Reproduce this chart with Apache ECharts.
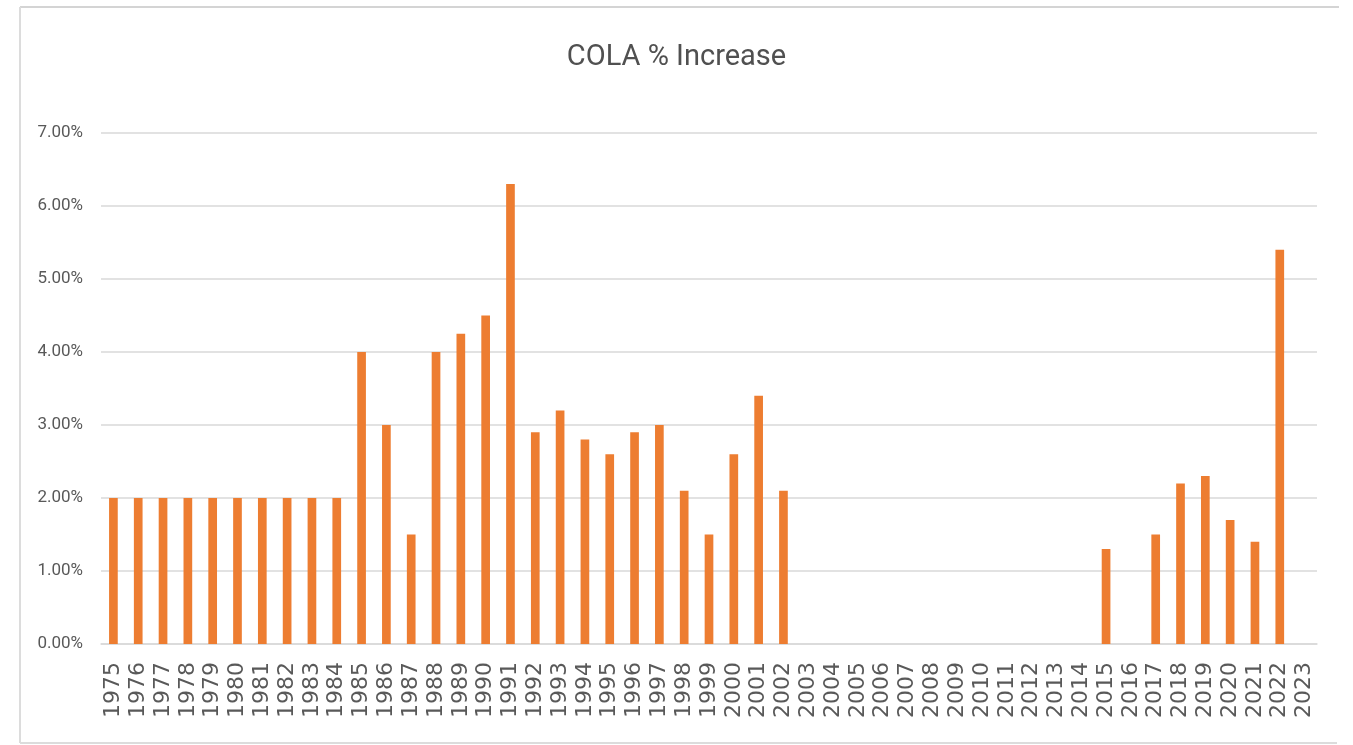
<!DOCTYPE html>
<html>
<head>
<meta charset="utf-8">
<script src="https://cdn.jsdelivr.net/npm/echarts@6/dist/echarts.min.js"></script>
<style>
html,body{margin:0;padding:0;background:#fff;}
#chart{width:1353px;height:745px;}
</style>
</head>
<body>
<div id="chart"></div>
<script>
const years = ['1975','1976','1977','1978','1979','1980','1981','1982','1983','1984',
  '1985','1986','1987','1988','1989','1990','1991','1992','1993','1994',
  '1995','1996','1997','1998','1999','2000','2001','2002','2003','2004',
  '2005','2006','2007','2008','2009','2010','2011','2012','2013','2014',
  '2015','2016','2017','2018','2019','2020','2021','2022','2023'];
const colaPct = [2.0,2.0,2.0,2.0,2.0,2.0,2.0,2.0,2.0,2.0,
  4.0,3.0,1.5,4.0,4.25,4.5,6.3,2.9,3.2,2.8,
  2.6,2.9,3.0,2.1,1.5,2.6,3.4,2.1,0,0,
  0,0,0,0,0,0,0,0,0,0,
  1.3,0,1.5,2.2,2.3,1.7,1.4,5.4,0];
const titleText = 'COLA % Increase';

const chart = echarts.init(document.getElementById('chart'), null, {renderer:'canvas'});
const narrow = 'Roboto, "Liberation Sans", sans-serif';
chart.setOption({
  animation: false,
  backgroundColor: '#ffffff',
  title: {
    text: titleText,
    left: 'center',
    top: 38,
    textStyle: {fontFamily: narrow, fontSize: 29, fontWeight: 'normal', color: '#505050'}
  },
  grid: {left: 101, right: 36, top: 133, bottom: 101},
  xAxis: {
    type: 'category',
    data: years,
    axisLine: {lineStyle: {color: '#d9d9d9', width: 1.5}},
    axisTick: {show: false},
    axisLabel: {
      rotate: 90, interval: 0, margin: 18,
      fontFamily: '"DejaVu Sans", sans-serif', fontSize: 22, color: '#595959'
    }
  },
  yAxis: {
    type: 'value',
    min: 0, max: 7, interval: 1,
    axisLine: {show: false},
    axisTick: {show: false},
    splitLine: {lineStyle: {color: '#d9d9d9', width: 1.5}},
    axisLabel: {
      margin: 18,
      fontFamily: narrow, fontSize: 17, color: '#595959',
      formatter: v => v.toFixed(2) + '%'
    }
  },
  series: [{
    type: 'bar',
    data: colaPct,
    barWidth: '35%',
    itemStyle: {color: '#ED7D31'}
  }],
  graphic: [
    {type: 'line', shape: {x1: 20, y1: 7, x2: 1339, y2: 7}, style: {stroke: '#d4d4d4', lineWidth: 2}},
    {type: 'line', shape: {x1: 20, y1: 7, x2: 20, y2: 743}, style: {stroke: '#dcdcdc', lineWidth: 2}},
    {type: 'line', shape: {x1: 20, y1: 743, x2: 1337, y2: 743}, style: {stroke: '#dcdcdc', lineWidth: 2}}
  ]
});
</script>
</body>
</html>
